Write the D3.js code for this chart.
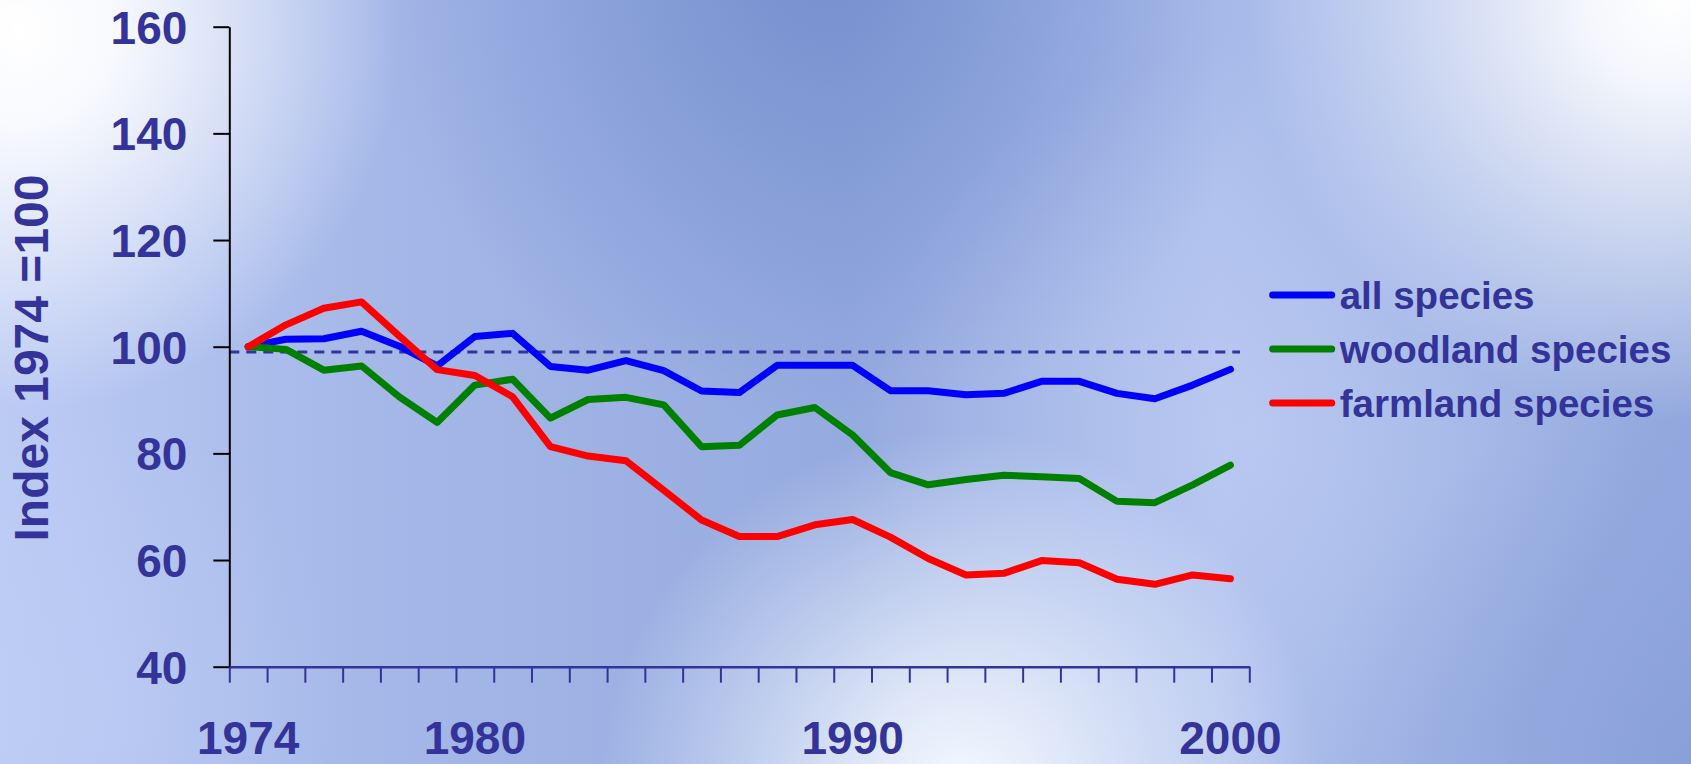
<!DOCTYPE html>
<html>
<head>
<meta charset="utf-8">
<script src="https://cdn.jsdelivr.net/npm/d3@7"></script>
<style>
  html, body { margin: 0; padding: 0; overflow: hidden; }
  svg { display: block; }
  text { font-family: "Liberation Sans", Arial, sans-serif; font-weight: bold; fill: #333399; }
</style>
</head>
<body>
<svg id="chart" width="1691" height="764"></svg>
<script>
// Bird population indices, 1974 = 100
const years = d3.range(1974, 2001);
const allSpecies = [100, 101.4, 101.5, 102.9, 100.1, 96.4, 101.9, 102.5, 96.3, 95.6, 97.4, 95.5, 91.7, 91.4,
                    96.5, 96.5, 96.5, 91.75, 91.75, 91.0, 91.25, 93.5, 93.5, 91.25, 90.25, 92.8, 95.75];
const woodlandSpecies = [100, 99.5, 95.6, 96.4, 90.6, 85.8, 92.8, 93.9, 86.6, 90.1, 90.5, 89.1, 81.25, 81.5,
                         87.2, 88.6, 83.45, 76.4, 74.1, 75.1, 75.9, 75.6, 75.3, 71.0, 70.75, 74.1, 77.8];
const farmlandSpecies = [100, 104.1, 107.2, 108.4, 102.0, 95.7, 94.6, 90.6, 81.25, 79.5, 78.6, 73.1, 67.5, 64.4,
                         64.4, 66.6, 67.6, 64.3, 60.3, 57.2, 57.5, 59.9, 59.5, 56.4, 55.45, 57.2, 56.5];
const seriesNames = ["all species", "woodland species", "farmland species"];
const seriesColors = ["#0000ff", "#008000", "#ff0000"];
const yTicks = [40, 60, 80, 100, 120, 140, 160];
const xLabels = [1974, 1980, 1990, 2000];
const baselineValue = 99;

const series = [allSpecies, woodlandSpecies, farmlandSpecies];

const svg = d3.select("#chart");
const W = 1691, H = 764;

// ---- background: soft blue sky wash ----
const defs = svg.append("defs");
const base = defs.append("linearGradient").attr("id", "bgBase")
  .attr("x1", 0).attr("y1", 0).attr("x2", 1).attr("y2", 0);
[["0%", "#bccbf4"], ["20%", "#a6b9e9"], ["50%", "#95aadf"], ["72%", "#acbeec"], ["100%", "#93a9de"]]
  .forEach(([o, c]) => base.append("stop").attr("offset", o).attr("stop-color", c));

function radial(id, cx, cy, r, color, stops) {
  const g = defs.append("radialGradient").attr("id", id)
    .attr("gradientUnits", "userSpaceOnUse")
    .attr("cx", cx).attr("cy", cy).attr("r", r);
  stops.forEach(([o, op]) => g.append("stop").attr("offset", o)
    .attr("stop-color", color).attr("stop-opacity", op));
  return `url(#${id})`;
}
function wash(fill) {
  svg.append("rect").attr("width", W).attr("height", H).attr("fill", fill);
}

wash("url(#bgBase)");
wash(radial("gTopDark", 820, -40, 460, "#6f8acb", [["0%", 0.8], ["100%", 0]]));
wash(radial("gTopLeft", 20, 30, 380, "#ffffff", [["0%", 1], ["25%", 0.9], ["100%", 0]]));
wash(radial("gTopRight", 1670, 0, 420, "#ffffff", [["0%", 1], ["20%", 0.9], ["100%", 0]]));
wash(radial("gMid", 1250, 430, 380, "#cdd8f8", [["0%", 0.4], ["100%", 0]]));
wash(radial("gBottom", 960, 790, 360, "#f4f9ff", [["0%", 1], ["30%", 0.75], ["100%", 0]]));
wash(radial("gRightLow", 1691, 764, 380, "#889fd7", [["0%", 0.8], ["100%", 0]]));
wash(radial("gLeftLow", 40, 700, 300, "#c0cff6", [["0%", 0.5], ["100%", 0]]));

// ---- scales ----
const x = d3.scaleBand().domain(years).range([229.3, 1249.3]).padding(0);
const xEdges = d3.scaleLinear().domain([0, years.length]).range([229.3, 1249.3]);
const y = d3.scaleLinear().domain([40, 160]).range([666.7, 26.7]);
const cx = yr => x(yr) + x.bandwidth() / 2;

// ---- reference line ----
svg.append("line")
  .attr("x1", 229.3).attr("x2", 1240)
  .attr("y1", y(baselineValue)).attr("y2", y(baselineValue))
  .attr("stroke", "#333399").attr("stroke-width", 3)
  .attr("stroke-dasharray", "10,7");

// ---- y axis ----
const yAxis = svg.append("g").attr("transform", "translate(229.3,0)")
  .call(d3.axisLeft(y).tickValues(yTicks).tickSize(16).tickSizeOuter(0).tickPadding(26));
yAxis.select(".domain").attr("stroke", "#000").attr("stroke-width", 2);
yAxis.selectAll(".tick line").attr("stroke", "#000").attr("stroke-width", 2);
yAxis.selectAll(".tick text")
  .attr("font-size", 46).attr("font-family", null).attr("fill", "#333399")
  .attr("dy", "0.36em");

// ---- x axis (ticks at year boundaries) ----
const xAxis = svg.append("g").attr("transform", "translate(0,666.7)")
  .call(d3.axisBottom(xEdges).tickValues(d3.range(years.length + 1)).tickFormat("")
    .tickSize(16).tickSizeOuter(0));
xAxis.select(".domain").attr("stroke", "#333399").attr("stroke-width", 2.5);
xAxis.selectAll(".tick line").attr("stroke", "#333399").attr("stroke-width", 2);

svg.append("g").selectAll("text").data(xLabels).join("text")
  .attr("x", d => cx(d)).attr("y", 754)
  .attr("text-anchor", "middle").attr("font-size", 46)
  .text(d => d);

// ---- y axis title ----
svg.append("text")
  .attr("transform", "translate(48,358) rotate(-90)")
  .attr("text-anchor", "middle").attr("font-size", 48)
  .text("Index 1974 =100");

// ---- series lines ----
const line = d3.line().x((d, i) => cx(years[i])).y(d => y(d));
svg.append("g").selectAll("path").data(series).join("path")
  .attr("d", d => line(d))
  .attr("fill", "none")
  .attr("stroke", (d, i) => seriesColors[i])
  .attr("stroke-width", 7)
  .attr("stroke-linejoin", "round")
  .attr("stroke-linecap", "round");

// ---- legend ----
const legend = svg.append("g").selectAll("g").data(seriesNames).join("g")
  .attr("transform", (d, i) => `translate(1272.7,${295 + i * 54})`);
legend.append("line")
  .attr("x1", 0).attr("x2", 59).attr("y1", 0).attr("y2", 0)
  .attr("stroke", (d, i) => seriesColors[i]).attr("stroke-width", 7)
  .attr("stroke-linecap", "round");
legend.append("text")
  .attr("x", 67).attr("y", 14).attr("font-size", 38.5)
  .text(d => d);
</script>
</body>
</html>
